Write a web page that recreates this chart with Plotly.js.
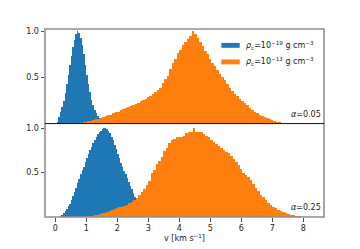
<!DOCTYPE html>
<html>
<head>
<meta charset="utf-8">
<script src="https://cdn.plot.ly/plotly-3.0.1.min.js"></script>
<style>html,body{margin:0;padding:0;background:#fff}#chart{width:360px;height:249px}</style>
</head>
<body>
<div id="chart"></div>
<script>
// Bin layout of each histogram (first bin centre, bin width)
var blueTopStart = 0.025, blueTopWidth = 0.05;
var blueBotStart = 0.125, blueBotWidth = 0.05;
var orangeTopStart = 0.76, orangeTopWidth = 0.08;
var orangeBotStart = 0.96, orangeBotWidth = 0.08;

// Normalised counts, alpha = 0.05, rho_c = 1e-19
var blueTop = [0.00,0.02,0.07,0.12,0.18,0.25,0.33,0.43,0.53,0.63,0.73,0.83,0.91,0.97,1.00,0.98,0.93,0.85,0.75,0.64,0.53,0.43,0.34,0.26,0.20,0.15,0.11,0.08,0.06,0.045,0.03,0.02,0.01,0.005];
// Normalised counts, alpha = 0.05, rho_c = 1e-13
var orangeTop = [0.003,0.008,0.012,0.018,0.024,0.030,0.036,0.045,0.052,0.062,0.070,0.080,0.090,0.098,0.110,0.122,0.130,0.145,0.160,0.172,0.180,0.192,0.200,0.212,0.228,0.240,0.255,0.268,0.285,0.300,0.318,0.340,0.362,0.390,0.440,0.480,0.520,0.590,0.660,0.700,0.760,0.800,0.850,0.880,0.920,0.950,1.000,0.970,0.930,0.880,0.840,0.790,0.750,0.700,0.660,0.620,0.580,0.540,0.500,0.470,0.430,0.390,0.350,0.320,0.300,0.270,0.245,0.225,0.200,0.170,0.150,0.130,0.110,0.095,0.082,0.068,0.058,0.045,0.035,0.026,0.018,0.012,0.007,0.004,0.002];
// Normalised counts, alpha = 0.25, rho_c = 1e-19
var blueBot = [0.003,0.012,0.025,0.045,0.07,0.095,0.12,0.15,0.19,0.235,0.28,0.33,0.38,0.43,0.48,0.525,0.565,0.615,0.66,0.71,0.75,0.79,0.83,0.87,0.90,0.93,0.95,0.97,0.99,1.00,1.00,0.99,0.97,0.94,0.90,0.86,0.81,0.76,0.71,0.66,0.61,0.56,0.52,0.48,0.44,0.39,0.35,0.31,0.27,0.23,0.19,0.15,0.11,0.08,0.05,0.03,0.015,0.005];
// Normalised counts, alpha = 0.25, rho_c = 1e-13
var orangeBot = [0.003,0.008,0.012,0.016,0.020,0.025,0.030,0.040,0.048,0.058,0.068,0.080,0.088,0.098,0.108,0.118,0.128,0.140,0.155,0.170,0.190,0.215,0.250,0.285,0.320,0.360,0.410,0.500,0.530,0.590,0.630,0.670,0.740,0.780,0.830,0.860,0.880,0.895,0.900,0.895,0.910,0.940,0.960,0.960,1.000,0.960,0.955,0.950,0.930,0.910,0.895,0.870,0.840,0.820,0.800,0.775,0.755,0.735,0.715,0.690,0.650,0.615,0.580,0.540,0.500,0.470,0.445,0.420,0.370,0.330,0.290,0.250,0.220,0.190,0.160,0.138,0.115,0.098,0.080,0.065,0.055,0.042,0.032,0.025,0.020,0.015,0.010,0.006,0.003,0.001];

var xTicks = [0,1,2,3,4,5,6,7,8];
var yTicks = [0.5, 1.0];
var yTickText = ['0.5','1.0'];
var seriesNames = ['<i>ρ</i><sub>c</sub>=10<sup>−19</sup> g cm<sup>−3</sup>', '<i>ρ</i><sub>c</sub>=10<sup>−13</sup> g cm<sup>−3</sup>'];
var alphaLabels = ['<i>α</i>=0.05', '<i>α</i>=0.25'];

var BLUE = '#1f77b4', ORANGE = '#ff7f0e';

function centres(start, width, n) {
  var out = [];
  for (var i = 0; i < n; i++) out.push(+(start + i * width).toFixed(4));
  return out;
}
function bar(vals, start, width, color, yax) {
  return {
    type: 'bar', x: centres(start, width, vals.length), y: vals, width: width,
    marker: {color: color, line: {width: 0}}, xaxis: 'x', yaxis: yax,
    showlegend: false, hoverinfo: 'skip'
  };
}

var traces = [
  bar(blueTop, blueTopStart, blueTopWidth, BLUE, 'y'),
  bar(orangeTop, orangeTopStart, orangeTopWidth, ORANGE, 'y'),
  bar(blueBot, blueBotStart, blueBotWidth, BLUE, 'y2'),
  bar(orangeBot, orangeBotStart, orangeBotWidth, ORANGE, 'y2')
];

var split = 0.497;
var font = {family: 'DejaVu Sans, sans-serif', size: 8, color: '#222'};

var layout = {
  width: 360, height: 249,
  margin: {l: 45, r: 36, t: 29, b: 32},
  paper_bgcolor: '#fff', plot_bgcolor: '#fff',
  font: font,
  barmode: 'overlay', bargap: 0,
  showlegend: false,
  xaxis: {
    anchor: 'y2', range: [-0.33, 8.67], tickvals: xTicks,
    ticks: 'outside', ticklen: 3.5, tickwidth: 0.8, tickcolor: '#222',
    showgrid: false, zeroline: false, showline: false,
    tickfont: font,
    title: {text: 'v [km s<sup>−1</sup>]', font: font, standoff: 2}
  },
  yaxis: {
    domain: [split, 1], range: [0, 1.025], tickvals: yTicks, ticktext: yTickText,
    ticks: 'outside', ticklen: 3.5, tickwidth: 0.8, tickcolor: '#222',
    showgrid: false, zeroline: false, showline: false, tickfont: font
  },
  yaxis2: {
    domain: [0, split], range: [0, 1.05], tickvals: yTicks, ticktext: yTickText,
    ticks: 'outside', ticklen: 3.5, tickwidth: 0.8, tickcolor: '#222',
    showgrid: false, zeroline: false, showline: false, tickfont: font
  },
  shapes: [
    {type: 'rect', xref: 'paper', yref: 'paper', x0: 0, x1: 1, y0: 0, y1: 1,
     line: {color: '#8f8f8f', width: 1.6}, layer: 'above'},
    {type: 'line', xref: 'paper', yref: 'paper', x0: 0, x1: 1, y0: split, y1: split,
     line: {color: '#111', width: 1}, layer: 'above'},
    {type: 'rect', xref: 'paper', yref: 'paper', x0: 0.632, x1: 0.698, y0: 0.9, y1: 0.926,
     fillcolor: BLUE, line: {width: 0}},
    {type: 'rect', xref: 'paper', yref: 'paper', x0: 0.632, x1: 0.698, y0: 0.812, y1: 0.838,
     fillcolor: ORANGE, line: {width: 0}}
  ],
  annotations: [
    {xref: 'paper', yref: 'paper', x: 0.712, y: 0.913, xanchor: 'left', yanchor: 'middle',
     text: seriesNames[0], showarrow: false, font: font},
    {xref: 'paper', yref: 'paper', x: 0.712, y: 0.825, xanchor: 'left', yanchor: 'middle',
     text: seriesNames[1], showarrow: false, font: font},
    {xref: 'paper', yref: 'paper', x: 0.995, y: split + 0.015, xanchor: 'right', yanchor: 'bottom',
     text: alphaLabels[0], showarrow: false, font: font},
    {xref: 'paper', yref: 'paper', x: 0.995, y: 0.015, xanchor: 'right', yanchor: 'bottom',
     text: alphaLabels[1], showarrow: false, font: font}
  ]
};

Plotly.newPlot('chart', traces, layout, {displayModeBar: false, staticPlot: true});
</script>
</body>
</html>
